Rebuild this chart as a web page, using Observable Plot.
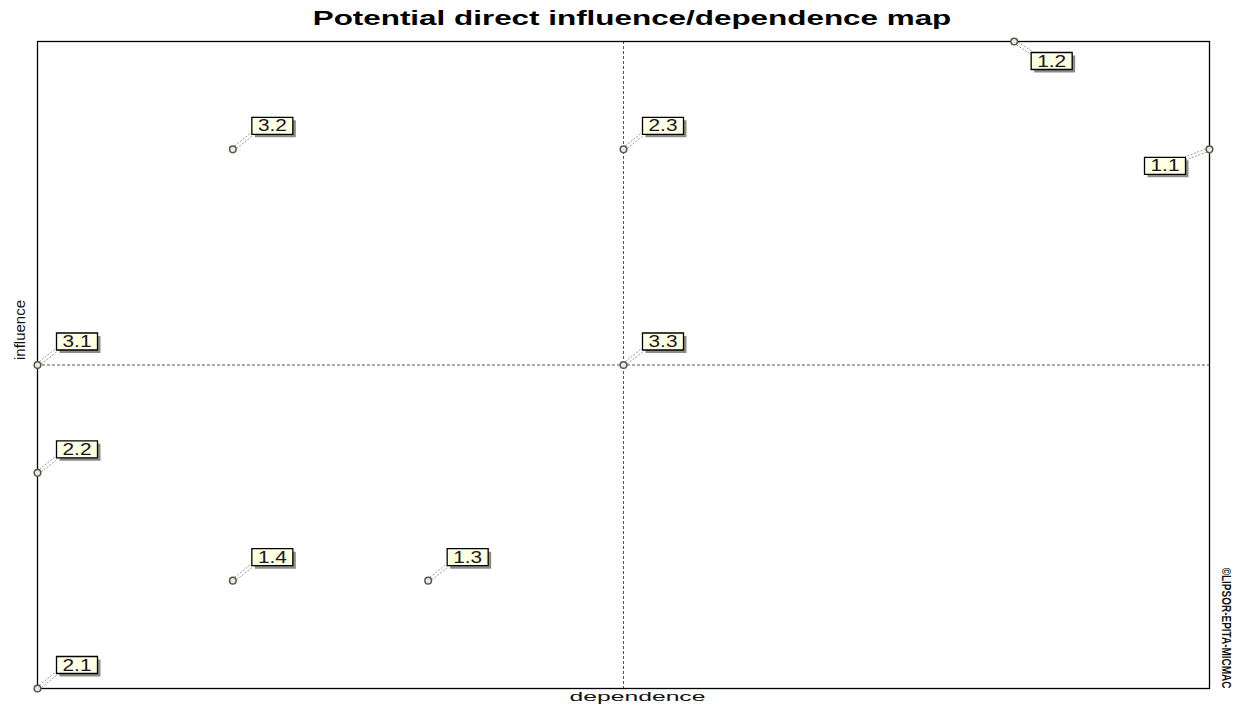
<!DOCTYPE html>
<html>
<head>
<meta charset="utf-8">
<script src="https://cdn.jsdelivr.net/npm/d3@7"></script>
<script src="https://cdn.jsdelivr.net/npm/@observablehq/plot@0.6"></script>
<style>
  html, body { margin: 0; padding: 0; background: #fff; }
  #wrap { position: relative; width: 1239px; height: 709px; overflow: hidden; }
  #title { position: absolute; left: 632px; top: 7px; white-space: nowrap;
           font: bold 20px Arial, "Liberation Sans", sans-serif; color: #000;
           transform: translateX(-50%) scaleX(1.57); }
  #chart { position: absolute; left: 0; top: 34px; }
</style>
</head>
<body>
<div id="wrap">
  <div id="title"></div>
  <div id="chart"></div>
</div>
<script>
// ---- data ----
const chartTitle = "Potential direct influence/dependence map";
const xLabel = "dependence";
const yLabel = "influence";
const credit = "©LIPSOR-EPITA-MICMAC";
const labels     = ["1.1", "1.2", "1.3", "1.4", "2.1", "2.2", "2.3", "3.1", "3.2", "3.3"];
const dependence = [6, 5, 2, 1, 0, 0, 3, 0, 1, 3];
const influence  = [5, 6, 1, 1, 0, 2, 5, 3, 5, 3];
const xDomain = [0, 6];
const yDomain = [0, 6];
const midX = [3];
const midY = [3];

document.getElementById("title").textContent = chartTitle;

const xMax = d3.max(dependence), yMax = d3.max(influence);
const rows = labels.map((label, i) => ({
  label, dependence: dependence[i], influence: influence[i],
  place: dependence[i] === xMax ? "sw" : influence[i] === yMax ? "se" : "ne"
}));

// label box geometry (pixel offsets from the point), per placement
const geom = {
  ne: {bx: 19, by: -32, bw: 41, bh: 17, lx: 19, ly: -15},
  se: {bx: 17, by: 11, bw: 41, bh: 17, lx: 17, ly: 11},
  sw: {bx: -65, by: 8, bw: 41, bh: 17, lx: -24, ly: 9}
};
const boxSym = (x, y, w, h) => ({draw(ctx) {
  ctx.moveTo(x, y); ctx.lineTo(x + w, y); ctx.lineTo(x + w, y + h); ctx.lineTo(x, y + h); ctx.closePath();
}});
const leaderSym = (x2, y2) => ({draw(ctx) {
  const len = Math.hypot(x2, y2), nx = -y2 / len * 1.6, ny = x2 / len * 1.6;
  ctx.moveTo(nx, ny); ctx.lineTo(x2 + nx, y2 + ny);
  ctx.moveTo(-nx, -ny); ctx.lineTo(x2 - nx, y2 - ny);
}});

const font = "Arial, 'Liberation Sans', sans-serif";
const marks = [
  Plot.ruleX(midX, {stroke: "#555", strokeWidth: 1, strokeDasharray: "3,2"}),
  Plot.ruleY(midY, {stroke: "#555", strokeWidth: 1, strokeDasharray: "3,2"}),
  Plot.frame({stroke: "#000", strokeWidth: 1.3})
];
for (const p of ["ne", "se", "sw"]) {
  const g = geom[p];
  const sub = rows.filter(d => d.place === p);
  marks.push(
    Plot.dot(sub, {x: "dependence", y: "influence", symbol: leaderSym(g.lx, g.ly), fill: "none",
      stroke: "#9a9a9a", strokeWidth: 1, strokeDasharray: "2,1.5"}),
    Plot.dot(sub, {x: "dependence", y: "influence", symbol: boxSym(g.bx + 3, g.by + 3, g.bw, g.bh),
      fill: "#8c8c8c", stroke: "none"}),
    Plot.dot(sub, {x: "dependence", y: "influence", symbol: boxSym(g.bx, g.by, g.bw, g.bh),
      fill: "#ffffe1", stroke: "#000", strokeWidth: 1.3}),
    Plot.text(sub, {x: "dependence", y: "influence", text: "label",
      dx: g.bx + g.bw / 2, dy: g.by + g.bh / 2 + 0.5, fontSize: 16, fill: "#151525"})
  );
}
marks.push(
  Plot.dot(rows, {x: "dependence", y: "influence", r: 3.3, fill: "#ecebd3", stroke: "#555", strokeWidth: 1.5}),
  Plot.text([xLabel], {text: d => d, frameAnchor: "bottom", dx: 14, dy: 12, fontSize: 13, fill: "#111"}),
  Plot.text([yLabel], {text: d => d, frameAnchor: "left", dx: -17, dy: -5, rotate: -90, fontSize: 15, fill: "#111"}),
  Plot.text([credit], {text: d => d, frameAnchor: "bottom-right", dx: 12, rotate: 90, textAnchor: "end",
    fontSize: 10, fontWeight: "bold", fill: "#111"})
);

const chart = Plot.plot({
  width: 1239,
  height: 675,
  marginLeft: 37,
  marginRight: 30,
  marginTop: 7,
  marginBottom: 21,
  style: {fontFamily: font, background: "#fff"},
  x: {domain: xDomain, axis: null},
  y: {domain: yDomain, axis: null},
  marks
});

// stretch of the bitmap-like text (scale about the anchor)
const stretch = new Map([...labels.map(l => [l, "1.3,1"]), [xLabel, "1.9,1"], [credit, "1,1.35"]]);
chart.querySelectorAll("text").forEach(t => {
  const s = stretch.get(t.textContent);
  if (!s) return;
  const tr = t.getAttribute("transform") || "";
  t.setAttribute("transform", tr + ` scale(${s})`);
});
document.getElementById("chart").appendChild(chart);
</script>
</body>
</html>
